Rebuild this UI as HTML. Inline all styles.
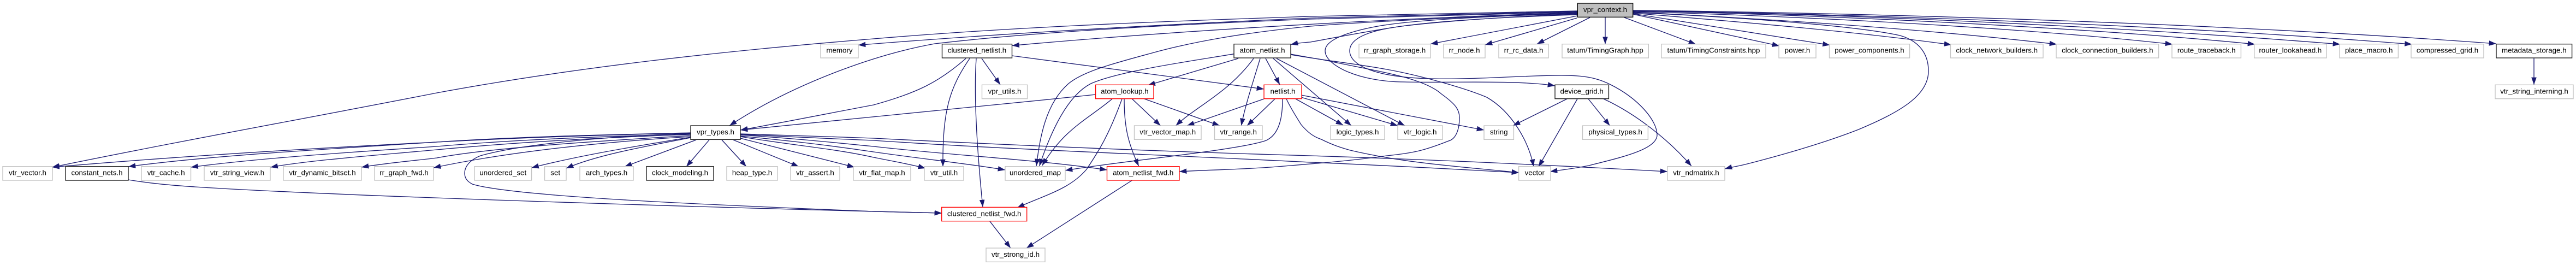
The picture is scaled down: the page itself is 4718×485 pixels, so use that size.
<!DOCTYPE html>
<html><head><meta charset="utf-8"><title>vpr_context.h include graph</title>
<style>
html,body{margin:0;padding:0;background:#fff}
svg{display:block}
text{font-family:"Liberation Sans",sans-serif;font-size:13.33px;text-anchor:middle;fill:#000}
.e path{fill:none;stroke:#191970;stroke-width:1.33;marker-end:url(#a)}
.g{fill:#fff;stroke:#c4c4c4;stroke-width:1.4}
.k{fill:#fff;stroke:#222;stroke-width:1.4}
.r{fill:#fff;stroke:#f00;stroke-width:1.33}
</style></head><body>
<svg xmlns="http://www.w3.org/2000/svg" width="4718" height="485" viewBox="0 0 4718 485">
<defs><marker id="a" markerUnits="userSpaceOnUse" markerWidth="16" markerHeight="12" refX="13.33" refY="6" orient="auto"><path d="M0,1.2L13.33,6L0,10.8z" fill="#191970"/></marker></defs>
<rect width="4718" height="485" fill="#fff"/>
<g class="e">
<path d="M2889,20C2700,23 2550,26 2400,30C2100,40 1850,50 1600,71C1330,93 1060,122 800,170C570,215 330,258 95.5,306"/>
<path d="M2889,21C2700,25 2550,29 2400,33C2150,44 1850,60 1572,82.5"/>
<path d="M2889,22C2700,27 2500,33 2400,35C2150,45 1900,58 1712,80C1600,100 1450,155 1336,230"/>
<path d="M2889,23C2600,32 2200,52 1853.6,83.5"/>
<path d="M2889,24C2700,30 2500,40 2400,48C2280,60 2190,75 2110,97C2040,116 1985,130 1957,153C1915,190 1905,250 1898,304"/>
<path d="M2889,27C2760,31 2640,38 2567,48C2510,56 2450,68 2400,77C2385,78 2375,79 2364,81.5"/>
<path d="M2889,29L2620,80.5"/>
<path d="M2888,33L2720,82"/>
<path d="M2912,32L2815,80.5"/>
<path d="M2940,32L2940,80.7"/>
<path d="M2975,32L3106,81"/>
<path d="M2991,26L3259,84"/>
<path d="M2991,25L3351.5,82.5"/>
<path d="M2991,24C3200,41 3400,58 3574,82"/>
<path d="M2991,22C3200,33 3500,50 3767,81"/>
<path d="M2991,21C3300,30 3700,50 3979,81"/>
<path d="M2991,20C3300,26 3800,48 4130,81"/>
<path d="M2991,19.5C3400,26 3900,50 4286,81"/>
<path d="M2991,19.5C3500,28 4000,48 4417.6,81"/>
<path d="M2991,19C3500,25 4100,45 4572,80"/>
<path d="M2991,23C3200,32 3404,48 3480,65C3525,78 3532,110 3532,130C3532,175 3480,205 3404,237C3340,262 3270,282 3200,300C3185,304 3170,306 3159,309"/>
<path d="M2889,25C2800,27 2650,33 2567,42C2510,48 2427,65 2427,93C2427,120 2490,150 2573,150C2650,152 2780,146 2848,157"/>
<path d="M2889,26C2800,28 2650,38 2567,48C2520,54 2472,66 2472,93C2472,120 2520,142 2623,144C2700,146 2790,138 2860,138C2900,138 2925,142 2950,155C3000,180 3035,220 3035,247C3035,275 2960,290 2910,303C2880,309 2860,311 2839,314"/>
<path d="M1265,243C1100,247 950,250 800,260C500,275 280,290 95.5,306"/>
<path d="M1265,243.5C1100,247 950,252 800,260C600,273 380,285 235,305"/>
<path d="M1265,245C1100,250 950,255 800,268C620,280 470,290 349.5,306"/>
<path d="M1265,246C1100,252 950,260 800,274C680,285 570,293 495.5,306"/>
<path d="M1265,248C1100,258 900,270 800,289C760,294 710,298 662,306"/>
<path d="M1265,250C1100,260 930,278 794,307"/>
<path d="M1265,251C1150,270 1060,285 973.5,307"/>
<path d="M1265,252C1170,270 1090,285 1037,308"/>
<path d="M1275,256L1144,305"/>
<path d="M1299,256L1257,305"/>
<path d="M1322,256L1367,305"/>
<path d="M1343,256L1463,305"/>
<path d="M1356,253L1565,306"/>
<path d="M1356,250C1450,266 1530,272 1600,288C1640,296 1665,300 1695,308"/>
<path d="M1356,249C1450,258 1520,266 1600,278C1690,291 1770,299 1841,311"/>
<path d="M1356,247C1450,253 1520,260 1600,268C1750,285 1900,292 2027.6,311"/>
<path d="M1356,245C1450,248 1520,250 1600,253C1900,268 2150,278 2400,285C2650,293 2850,303 3054,314"/>
<path d="M1356,246C1450,250 1520,254 1600,257C1850,274 2150,284 2400,297C2550,303 2650,309 2782,316"/>
<path d="M1265,244C1100,250 950,265 880,285C860,293 851,305 851,317C851,328 858,333 865,337C940,360 1300,375 1600,387C1640,388 1690,389 1725,390"/>
<path d="M235,329C290,338 330,340 357,342C600,358 1300,380 1725,390"/>
<path d="M2260,98.7C2180,112 2050,130 1998,153C1955,175 1925,240 1903.6,304"/>
<path d="M2268,107L2102.5,156"/>
<path d="M2296,107C2250,170 2190,195 2153.6,230"/>
<path d="M2308,107C2295,150 2280,195 2273.5,230"/>
<path d="M2318,107L2344,155"/>
<path d="M2332,107L2475,230"/>
<path d="M2338,107L2573,230"/>
<path d="M2364,100C2420,110 2480,116 2540,127C2600,138 2680,160 2723,178C2770,205 2800,260 2809,305"/>
<path d="M2364,99C2400,106 2430,110 2440,113C2520,130 2607,142 2640,172C2665,190 2673,200 2673,215C2673,240 2665,255 2653,258C2610,275 2590,280 2540,285C2470,295 2400,300 2340,305C2280,310 2210,311 2160,314"/>
<path d="M2315,181L2174,230"/>
<path d="M2335,181L2284,230"/>
<path d="M2349,181C2349,210 2345,245 2319,257C2270,275 2050,295 1951,312"/>
<path d="M2356,181C2365,200 2375,215 2383,228C2395,242 2405,250 2420,255C2440,265 2455,270 2473,275C2580,300 2680,305 2782,316"/>
<path d="M2373,181L2460,229"/>
<path d="M2383,178L2560,230"/>
<path d="M2383,174L2718,238"/>
<path d="M2007,173C1800,195 1600,212 1356,238"/>
<path d="M2037,181C1990,220 1950,235 1908.7,303"/>
<path d="M2055,181C2030,250 2010,280 1990,310C1960,345 1920,355 1863,380"/>
<path d="M2059,181C2059,230 2065,260 2085.7,304"/>
<path d="M2073.5,181L2125.5,230"/>
<path d="M2096,181L2234,230"/>
<path d="M1769,107C1720,150 1680,170 1600,192C1520,207 1430,225 1356,238"/>
<path d="M1776,107C1740,160 1726,200 1727,305"/>
<path d="M1788,107C1783,180 1790,280 1800,379"/>
<path d="M1798,107L1832,155"/>
<path d="M1853.6,102L2315,163"/>
<path d="M2073.5,330L1880,454"/>
<path d="M1812.7,404.7L1851,454"/>
<path d="M2870,181L2771,230"/>
<path d="M2889,181L2818,305"/>
<path d="M2909,181L2948.5,230"/>
<path d="M2937,181C3000,210 3060,260 3098,304"/>
<path d="M4641,106.7L4641,155"/>
</g>
<rect x="2889.3" y="6" width="101.4" height="25.33" fill="#bfbfbf" stroke="#000" stroke-width="1.33"/><text x="2940" y="22">vpr_context.h</text>
<rect class="g" x="1503" y="80.67" width="69" height="25.33"/><text x="1537.5" y="96.7">memory</text>
<rect class="k" x="1725.5" y="80.67" width="128" height="25.33"/><text x="1789.5" y="96.7">clustered_netlist.h</text>
<rect class="k" x="2260" y="80.67" width="104" height="25.33"/><text x="2312" y="96.7">atom_netlist.h</text>
<rect class="g" x="2489" y="80.67" width="131" height="25.33"/><text x="2554.5" y="96.7">rr_graph_storage.h</text>
<rect class="g" x="2644" y="80.67" width="76" height="25.33"/><text x="2682" y="96.7">rr_node.h</text>
<rect class="g" x="2745" y="80.67" width="91" height="25.33"/><text x="2790.5" y="96.7">rr_rc_data.h</text>
<rect class="g" x="2861" y="80.67" width="158.3" height="25.33"/><text x="2940" y="96.7">tatum/TimingGraph.hpp</text>
<rect class="g" x="3043" y="80.67" width="191" height="25.33"/><text x="3138.5" y="96.7">tatum/TimingConstraints.hpp</text>
<rect class="g" x="3258" y="80.67" width="68" height="25.33"/><text x="3292" y="96.7">power.h</text>
<rect class="g" x="3350.5" y="80.67" width="147" height="25.33"/><text x="3424" y="96.7">power_components.h</text>
<rect class="g" x="3572.4" y="80.67" width="169.6" height="25.33"/><text x="3657.2" y="96.7">clock_network_builders.h</text>
<rect class="g" x="3766" y="80.67" width="187.6" height="25.33"/><text x="3859.8" y="96.7">clock_connection_builders.h</text>
<rect class="g" x="3978" y="80.67" width="126.4" height="25.33"/><text x="4041.2" y="96.7">route_traceback.h</text>
<rect class="g" x="4128.7" y="80.67" width="132.3" height="25.33"/><text x="4194.8" y="96.7">router_lookahead.h</text>
<rect class="g" x="4285" y="80.67" width="107.4" height="25.33"/><text x="4338.7" y="96.7">place_macro.h</text>
<rect class="g" x="4416" y="80.67" width="133" height="25.33"/><text x="4482.5" y="96.7">compressed_grid.h</text>
<rect class="k" x="4572" y="80.67" width="138.6" height="25.33"/><text x="4641.3" y="96.7">metadata_storage.h</text>
<rect class="g" x="1798.5" y="155.33" width="83.1" height="25.33"/><text x="1840" y="171.3">vpr_utils.h</text>
<rect class="r" x="2006.6" y="155.33" width="106.4" height="25.33"/><text x="2059.8" y="171.3">atom_lookup.h</text>
<rect class="r" x="2315" y="155.33" width="69" height="25.33"/><text x="2349.5" y="171.3">netlist.h</text>
<rect class="k" x="2848" y="155.33" width="98.4" height="25.33"/><text x="2897.2" y="171.3">device_grid.h</text>
<rect class="g" x="4570" y="155.33" width="143" height="25.33"/><text x="4641.5" y="171.3">vtr_string_interning.h</text>
<rect class="k" x="1265" y="230" width="91" height="25.33"/><text x="1310.5" y="246">vpr_types.h</text>
<rect class="g" x="2077.5" y="230" width="122.5" height="25.33"/><text x="2138.7" y="246">vtr_vector_map.h</text>
<rect class="g" x="2224.5" y="230" width="87.5" height="25.33"/><text x="2268.2" y="246">vtr_range.h</text>
<rect class="g" x="2437" y="230" width="99" height="25.33"/><text x="2486.5" y="246">logic_types.h</text>
<rect class="g" x="2560" y="230" width="82" height="25.33"/><text x="2601" y="246">vtr_logic.h</text>
<rect class="g" x="2718" y="230" width="54.4" height="25.33"/><text x="2745.2" y="246">string</text>
<rect class="g" x="2898.5" y="230" width="119.9" height="25.33"/><text x="2958.5" y="246">physical_types.h</text>
<rect class="g" x="5" y="304.67" width="91" height="25.33"/><text x="50.5" y="320.7">vtr_vector.h</text>
<rect class="k" x="120" y="304.67" width="115" height="25.33"/><text x="177.5" y="320.7">constant_nets.h</text>
<rect class="g" x="259" y="304.67" width="90.5" height="25.33"/><text x="304.2" y="320.7">vtr_cache.h</text>
<rect class="g" x="374" y="304.67" width="121" height="25.33"/><text x="434.5" y="320.7">vtr_string_view.h</text>
<rect class="g" x="519" y="304.67" width="143" height="25.33"/><text x="590.5" y="320.7">vtr_dynamic_bitset.h</text>
<rect class="g" x="686" y="304.67" width="108" height="25.33"/><text x="740" y="320.7">rr_graph_fwd.h</text>
<rect class="g" x="869" y="304.67" width="104.5" height="25.33"/><text x="921.2" y="320.7">unordered_set</text>
<rect class="g" x="997.5" y="304.67" width="39.5" height="25.33"/><text x="1017.2" y="320.7">set</text>
<rect class="g" x="1062" y="304.67" width="98" height="25.33"/><text x="1111" y="320.7">arch_types.h</text>
<rect class="k" x="1184" y="304.67" width="123" height="25.33"/><text x="1245.5" y="320.7">clock_modeling.h</text>
<rect class="g" x="1331" y="304.67" width="93" height="25.33"/><text x="1377.5" y="320.7">heap_type.h</text>
<rect class="g" x="1448" y="304.67" width="90" height="25.33"/><text x="1493" y="320.7">vtr_assert.h</text>
<rect class="g" x="1563" y="304.67" width="105" height="25.33"/><text x="1615.5" y="320.7">vtr_flat_map.h</text>
<rect class="g" x="1693" y="304.67" width="72" height="25.33"/><text x="1729" y="320.7">vtr_util.h</text>
<rect class="g" x="1841" y="304.67" width="110" height="25.33"/><text x="1896" y="320.7">unordered_map</text>
<rect class="r" x="2027.5" y="304.67" width="132.5" height="25.33"/><text x="2093.7" y="320.7">atom_netlist_fwd.h</text>
<rect class="g" x="2781.6" y="304.67" width="58.4" height="25.33"/><text x="2810.8" y="320.7">vector</text>
<rect class="g" x="3054" y="304.67" width="105" height="25.33"/><text x="3106.5" y="320.7">vtr_ndmatrix.h</text>
<rect class="r" x="1724.7" y="379.33" width="156" height="25.33"/><text x="1802.7" y="395.3">clustered_netlist_fwd.h</text>
<rect class="g" x="1806" y="454" width="108" height="25.33"/><text x="1860" y="470">vtr_strong_id.h</text>
</svg>
</body></html>
